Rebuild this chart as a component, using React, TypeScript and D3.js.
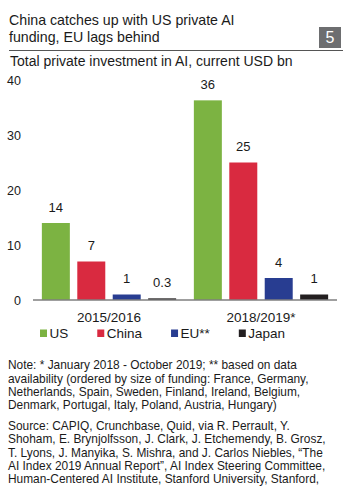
import { useEffect, useRef } from "react";
import * as d3 from "d3";

const periods = ["2015/2016", "2018/2019*"];
const regions = ["US", "China", "EU**", "Japan"];
const colors = ["#7cb342", "#d92a40", "#283d91", "#231f20"];
const values2015 = [14, 7, 1, 0.3];
const values2018 = [36.3, 25, 4, 1];
const yTicks = [0, 10, 20, 30, 40];

const titleLines = ["China catches up with US private AI", "funding, EU lags behind"];
const subtitle = "Total private investment in AI, current USD bn";
const noteLines = [
  "Note: * January 2018 - October 2019; ** based on data",
  "availability (ordered by size of funding: France, Germany,",
  "Netherlands, Spain, Sweden, Finland, Ireland, Belgium,",
  "Denmark, Portugal, Italy, Poland, Austria, Hungary)",
];
const sourceLines = [
  "Source: CAPIQ, Crunchbase, Quid, via R. Perrault, Y.",
  "Shoham, E. Brynjolfsson, J. Clark, J. Etchemendy, B. Grosz,",
  "T. Lyons, J. Manyika, S. Mishra, and J. Carlos Niebles, \u201cThe",
  "AI Index 2019 Annual Report\u201d, AI Index Steering Committee,",
  "Human-Centered AI Institute, Stanford University, Stanford,",
];

const W = 352;
const H = 497;
const FONT = "'Liberation Sans', Arial, sans-serif";
const INK = "#1a1a1a";

export default function App() {
  const svgRef = useRef<SVGSVGElement>(null);

  useEffect(() => {
    if (!svgRef.current) return;
    const svg = d3.select(svgRef.current);
    svg.selectAll("*").remove();
    svg.style("font-family", FONT);

    // title block
    svg
      .append("g")
      .selectAll("text")
      .data(titleLines)
      .join("text")
      .attr("x", 9)
      .attr("y", (_d, i) => 24.5 + i * 17)
      .attr("font-size", 14.2)
      .attr("fill", INK)
      .text((d) => d);

    svg.append("rect").attr("x", 319).attr("y", 27).attr("width", 22).attr("height", 21).attr("fill", "#6d6e70");
    svg
      .append("text")
      .attr("x", 330)
      .attr("y", 43)
      .attr("text-anchor", "middle")
      .attr("font-size", 16)
      .attr("fill", "#fff")
      .text("5");

    svg.append("line").attr("x1", 9).attr("x2", 343).attr("y1", 50.5).attr("y2", 50.5).attr("stroke", "#555").attr("stroke-width", 1);

    svg
      .append("text")
      .attr("x", 10)
      .attr("y", 66)
      .attr("font-size", 14)
      .attr("fill", INK)
      .text(subtitle);

    // chart
    const x0 = d3.scaleBand<string>().domain(periods).range([33, 337]).padding(0);
    const x1 = d3
      .scaleBand<string>()
      .domain(regions)
      .range([0, x0.bandwidth()])
      .paddingInner(0.21)
      .paddingOuter(0.25);
    const y = d3.scaleLinear().domain([0, 40]).range([300, 80]);

    svg
      .append("g")
      .selectAll("text")
      .data(yTicks)
      .join("text")
      .attr("x", 21)
      .attr("y", (d) => y(d) + 4.5)
      .attr("text-anchor", "end")
      .attr("font-size", 12.5)
      .attr("fill", INK)
      .text((d) => d);

    const series = [values2015, values2018];
    const group = svg
      .append("g")
      .selectAll("g")
      .data(periods)
      .join("g")
      .attr("transform", (d) => `translate(${x0(d)},0)`);

    const cells = (_p: string, gi: number) =>
      regions.map((r, i) => ({ region: r, color: colors[i], value: series[gi][i] }));

    group
      .selectAll("rect")
      .data(cells)
      .join("rect")
      .attr("x", (d) => x1(d.region) ?? 0)
      .attr("width", x1.bandwidth())
      .attr("y", (d) => y(d.value))
      .attr("height", (d) => y(0) - y(d.value))
      .attr("fill", (d) => d.color);

    group
      .selectAll("text")
      .data(cells)
      .join("text")
      .attr("x", (d) => (x1(d.region) ?? 0) + x1.bandwidth() / 2)
      .attr("y", (d) => y(d.value) - 11.5)
      .attr("text-anchor", "middle")
      .attr("font-size", 13)
      .attr("fill", INK)
      .text((d) => (d.value < 1 ? d3.format(".1f")(d.value) : d3.format(".0f")(d.value)));

    svg
      .append("line")
      .attr("x1", 33)
      .attr("x2", 337)
      .attr("y1", y(0))
      .attr("y2", y(0))
      .attr("stroke", "#7f7f7f")
      .attr("stroke-width", 1.3);

    svg
      .append("g")
      .selectAll("text")
      .data(periods)
      .join("text")
      .attr("x", (d) => (x0(d) ?? 0) + x0.bandwidth() / 2)
      .attr("y", 322)
      .attr("text-anchor", "middle")
      .attr("font-size", 13.5)
      .attr("fill", INK)
      .text((d) => d);

    // legend, laid out by text width
    const legend = svg.append("g");
    let lx = 40;
    regions.forEach((r, i) => {
      legend.append("rect").attr("x", lx).attr("y", 329.5).attr("width", 7).attr("height", 7.5).attr("fill", colors[i]);
      const t = legend
        .append("text")
        .attr("x", lx + 9.5)
        .attr("y", 338)
        .attr("font-size", 13.5)
        .attr("fill", INK)
        .text(r);
      lx += 9.5 + (t.node() as SVGTextElement).getComputedTextLength() + 29;
    });

    // notes
    svg
      .append("g")
      .selectAll("text")
      .data(noteLines)
      .join("text")
      .attr("x", 8)
      .attr("y", (_d, i) => 369.3 + i * 13.3)
      .attr("font-size", 11.9)
      .attr("fill", INK)
      .text((d) => d);

    svg
      .append("g")
      .selectAll("text")
      .data(sourceLines)
      .join("text")
      .attr("x", 8)
      .attr("y", (_d, i) => 430 + i * 13.3)
      .attr("font-size", 11.9)
      .attr("fill", INK)
      .text((d) => d);
  }, []);

  return (
    <div style={{ position: "fixed", left: 0, top: 0, width: W, height: H, background: "#fff" }}>
      <svg ref={svgRef} width={W} height={H} />
    </div>
  );
}
